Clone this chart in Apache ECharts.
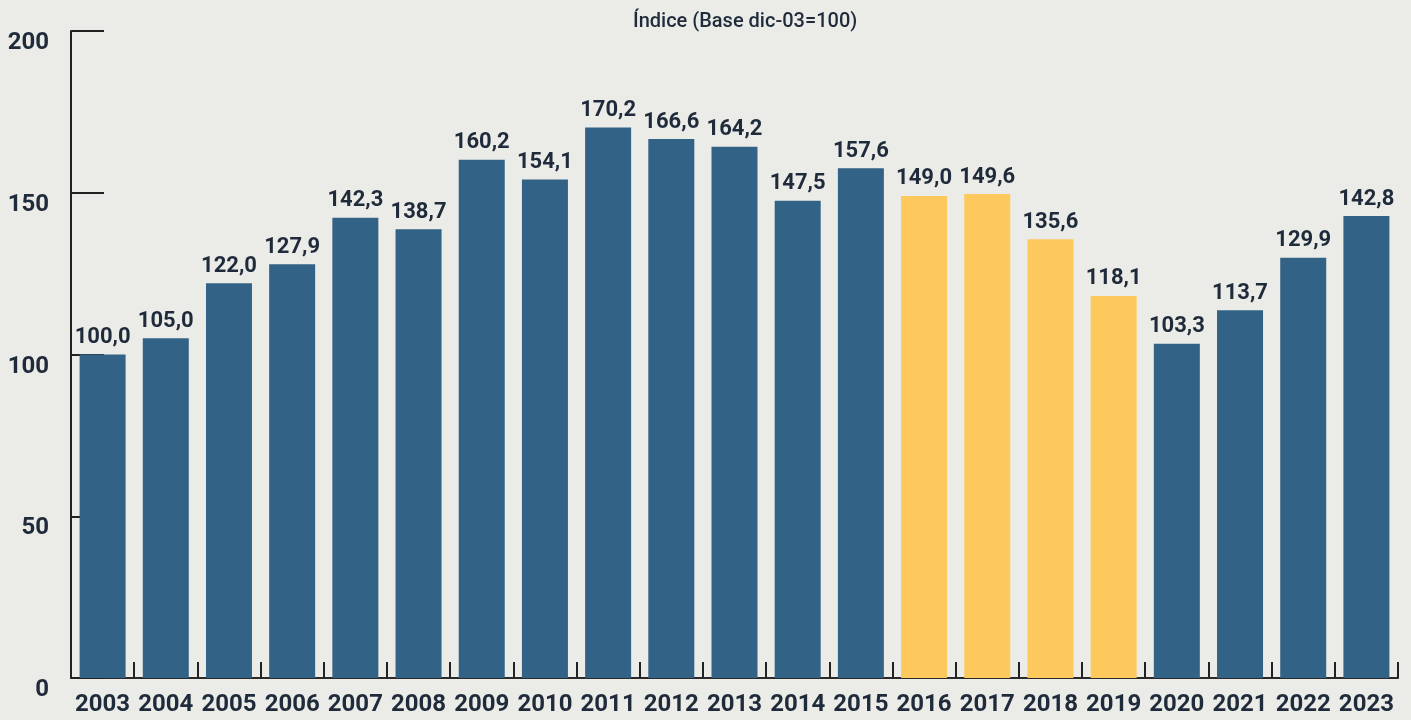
<!DOCTYPE html>
<html>
<head>
<meta charset="utf-8">
<script src="https://cdn.jsdelivr.net/npm/echarts@6/dist/echarts.min.js"></script>
<style>
  html, body { margin: 0; padding: 0; background: #EBECE7; }
  #chart { width: 1411px; height: 720px; }
</style>
</head>
<body>
<div id="chart"></div>
<script>
// años
const years = ['2003', '2004', '2005', '2006', '2007', '2008', '2009', '2010', '2011', '2012', '2013',
  '2014', '2015', '2016', '2017', '2018', '2019', '2020', '2021', '2022', '2023'];
// índice (base dic-03 = 100)
const indexValues = [100.0, 105.0, 122.0, 127.9, 142.3, 138.7, 160.2, 154.1, 170.2, 166.6, 164.2,
  147.5, 157.6, 149.0, 149.6, 135.6, 118.1, 103.3, 113.7, 129.9, 142.8];
// años resaltados en amarillo
const highlightYears = ['2016', '2017', '2018', '2019'];
const yTicks = [0, 50, 100, 150, 200];

const textColor = '#1F2B3B';
const chart = echarts.init(document.getElementById('chart'));

const option = {
  backgroundColor: '#EBECE7',
  animation: false,
  title: {
    text: 'Índice (Base dic-03=100)',
    left: 628,
    top: 7,
    textStyle: { fontFamily: 'Roboto', fontWeight: 500, fontSize: 20, color: textColor }
  },
  grid: { left: 71, right: 13, top: 31, bottom: 42, containLabel: false },
  xAxis: {
    type: 'category',
    data: years,
    boundaryGap: true,
    axisLine: { lineStyle: { color: '#2a2a2a', width: 2 } },
    axisTick: { show: true, inside: true, length: 16, lineStyle: { color: '#222', width: 2 } },
    axisLabel: {
      interval: 0, margin: 15,
      fontFamily: 'Roboto', fontWeight: 'bold', fontSize: 24, color: textColor
    }
  },
  yAxis: {
    type: 'value',
    min: yTicks[0],
    max: yTicks[yTicks.length - 1],
    interval: 50,
    splitLine: { show: false },
    axisLine: { show: true, lineStyle: { color: '#222', width: 2 } },
    axisTick: { show: true, inside: true, length: 33, lineStyle: { color: '#222', width: 2 } },
    axisLabel: {
      margin: 22, verticalAlign: 'top',
      fontFamily: 'Roboto', fontWeight: 'bold', fontSize: 24, color: textColor
    }
  },
  series: [{
    type: 'bar',
    barWidth: 46,
    data: indexValues.map((v, i) => ({
      value: v,
      itemStyle: { color: highlightYears.includes(years[i]) ? '#FEC95C' : '#336287' }
    })),
    label: {
      show: true,
      position: 'top',
      distance: 6,
      fontFamily: 'Roboto',
      fontWeight: 'bold',
      fontSize: 22,
      color: textColor,
      formatter: (p) => p.value.toFixed(1).replace('.', ',')
    }
  }]
};
chart.setOption(option);
</script>
</body>
</html>
